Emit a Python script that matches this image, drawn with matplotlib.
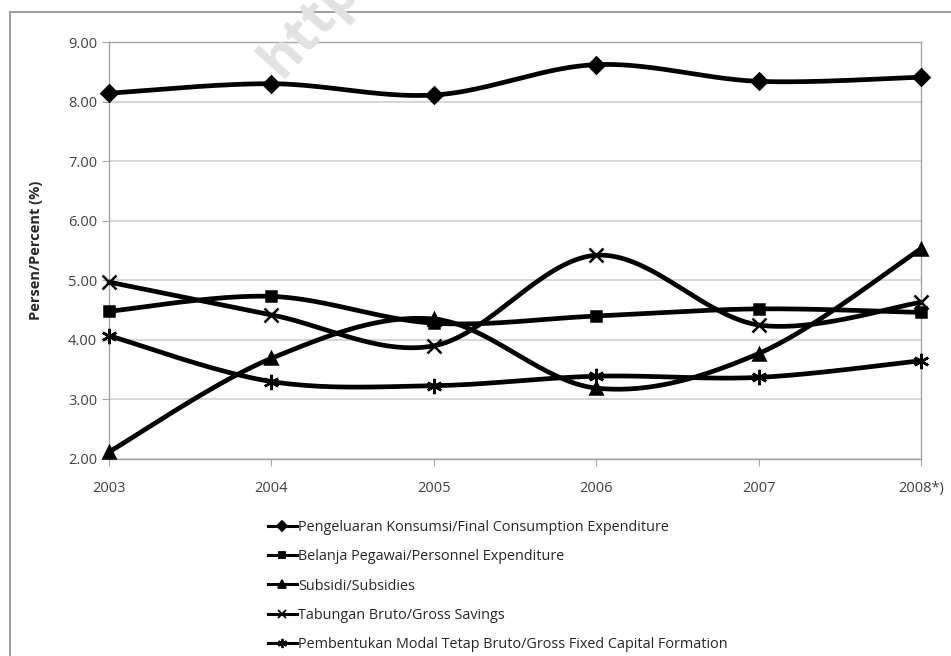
import numpy as np
import matplotlib.pyplot as plt
from matplotlib.patches import Rectangle

years = ['2003', '2004', '2005', '2006', '2007', '2008*)']
konsumsi = [8.14, 8.30, 8.11, 8.62, 8.34, 8.41]
pegawai = [4.48, 4.73, 4.28, 4.40, 4.52, 4.46]
subsidi = [2.12, 3.69, 4.35, 3.19, 3.77, 5.53]
tabungan = [4.97, 4.42, 3.90, 5.42, 4.25, 4.63]
modal = [4.07, 3.30, 3.23, 3.39, 3.37, 3.65]

labels = ['Pengeluaran Konsumsi/Final Consumption Expenditure',
          'Belanja Pegawai/Personnel Expenditure',
          'Subsidi/Subsidies',
          'Tabungan Bruto/Gross Savings',
          'Pembentukan Modal Tetap Bruto/Gross Fixed Capital Formation']
markers = ['D', 's', '^', 'x', (6, 2, 0)]
msizes = [8, 7, 9, 10, 11]

plt.rcParams['font.family'] = ['Open Sans', 'DejaVu Sans']


def smooth(x, y, n=40):
    # excel-like smoothed line (catmull-rom bezier)
    x = np.asarray(x, float)
    y = np.asarray(y, float)
    px = np.concatenate([[x[0]], x, [x[-1]]])
    py = np.concatenate([[y[0]], y, [y[-1]]])
    t = np.linspace(0, 1, n)
    xs, ys = [], []
    for i in range(1, len(px) - 2):
        p0 = np.array([px[i], py[i]])
        p3 = np.array([px[i + 1], py[i + 1]])
        c1 = p0 + (np.array([px[i + 1], py[i + 1]]) - np.array([px[i - 1], py[i - 1]])) / 6
        c2 = p3 - (np.array([px[i + 2], py[i + 2]]) - np.array([px[i], py[i]])) / 6
        b = ((1 - t) ** 3)[:, None] * p0 + (3 * (1 - t) ** 2 * t)[:, None] * c1 \
            + (3 * (1 - t) * t ** 2)[:, None] * c2 + (t ** 3)[:, None] * p3
        xs.append(b[:, 0])
        ys.append(b[:, 1])
    return np.concatenate(xs), np.concatenate(ys)


fig = plt.figure(figsize=(9.51, 6.56), dpi=100)
ax = fig.add_axes([109 / 951, 1 - 459 / 656, (921 - 109) / 951, (459 - 42) / 656])

# outer chart border
fig.patches.append(Rectangle((10 / 951, -0.1), 1.2, 1 - 12 / 656 + 0.1, transform=fig.transFigure,
                             fill=False, edgecolor='#8c8c8c', lw=1.2, zorder=0))

x = np.arange(len(years))
series = [konsumsi, pegawai, subsidi, tabungan, modal]
handles = []
for s, m, ms, lab in zip(series, markers, msizes, labels):
    sx, sy = smooth(x, s)
    ax.plot(sx, sy, color='black', lw=3.4, solid_capstyle='round', zorder=3, clip_on=False)
    ax.plot(x, s, ls='none', marker=m, ms=ms, color='black', mew=1.8, zorder=4, clip_on=False)
    h, = ax.plot([], [], color='black', lw=2.2, marker=m, ms=ms * 0.6, mew=1.3, label=lab)
    handles.append(h)

ax.set_xlim(0, 5)
ax.set_ylim(2, 9)
ax.set_yticks(np.arange(2, 9.01, 1))
ax.set_yticklabels([f'{v:.2f}' for v in np.arange(2, 9.01, 1)])
ax.set_xticks(x)
ax.set_xticklabels(years)
ax.grid(axis='y', color='#d0d0d0', lw=1.2)
ax.set_axisbelow(True)
for sp in ax.spines.values():
    sp.set_color('#a6a6a6')
    sp.set_linewidth(1.0)
ax.tick_params(axis='both', colors='#a6a6a6', labelcolor='#404040', labelsize=10.5, length=5)
ax.tick_params(axis='x', pad=11)
ax.set_ylabel('Persen/Percent (%)', fontsize=10.5, fontweight='bold', color='#262626', labelpad=18)

fig.text(250 / 951, 1 - 75 / 656, 'http', rotation=48, fontsize=40, fontweight='bold',
         color='#e2e2e2', zorder=1)

fig.legend(handles=handles, loc='upper left', bbox_to_anchor=(262 / 951, 1 - 514 / 656),
           frameon=False, fontsize=10.35, handlelength=2.0, handletextpad=0.1,
           labelspacing=1.0, borderaxespad=0, labelcolor='#262626')

fig.savefig('out.png', dpi=100)
